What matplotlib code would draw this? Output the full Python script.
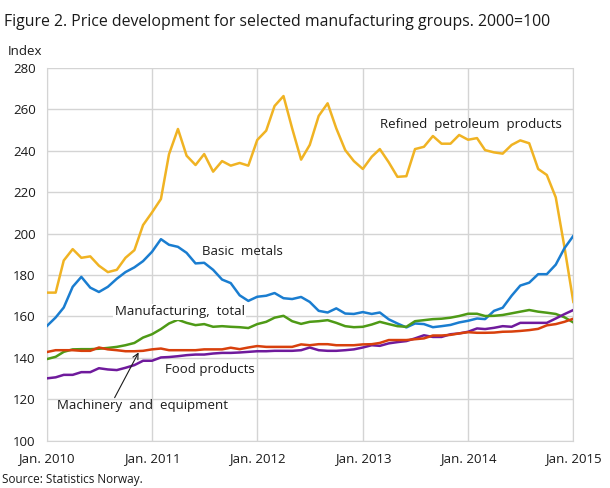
"""
Figure 2. Price development for selected manufacturing groups (2000=100)
Monthly index values Jan. 2010 - Jan. 2015, read off the published chart.
"""

import numpy as np
import pandas as pd
import matplotlib
matplotlib.use("Agg")
import matplotlib.pyplot as plt

plt.rcParams["font.family"] = ["Open Sans", "DejaVu Sans"]

# ─────────────────────────────────────────────────────────────────────────────
# Data (Jan. 2010 .. Jan. 2015, 61 months)
# ─────────────────────────────────────────────────────────────────────────────
months = pd.date_range("2010-01-01", "2015-01-01", freq="MS")

petroleum = [
    171.5, 171.5, 187.0, 192.5, 188.3, 189.0, 184.5, 181.4, 182.5, 188.3,
    192.0, 204.1, 210.2, 216.7, 238.3, 250.5, 237.6, 233.1, 238.4, 229.9,
    235.0, 232.8, 234.1, 232.8, 245.2, 249.7, 261.6, 266.4, 250.8, 235.7,
    242.8, 256.8, 262.9, 250.8, 240.3, 235.0, 231.2, 237.1, 240.8, 234.4,
    227.4, 227.7, 240.8, 241.9, 247.1, 243.4, 243.4, 247.6, 245.3, 246.1,
    240.3, 239.2, 238.6, 242.8, 245.0, 243.6, 231.2, 228.3, 217.5, 193.6,
    167.0,
]
basic_metals = [
    155.3, 159.5, 164.3, 174.3, 179.1, 173.9, 171.8, 174.3, 178.2, 181.4,
    183.7, 186.7, 191.2, 197.3, 194.6, 193.6, 190.7, 185.6, 185.9, 182.5,
    177.8, 176.1, 170.2, 167.5, 169.5, 170.0, 171.3, 168.8, 168.4, 169.4,
    167.0, 162.7, 161.9, 163.9, 161.4, 161.2, 162.1, 161.2, 161.9, 158.6,
    156.6, 154.7, 156.6, 156.3, 154.8, 155.3, 155.9, 157.1, 157.9, 159.0,
    158.7, 162.7, 164.2, 170.0, 174.9, 176.3, 180.4, 180.4, 185.0, 192.9,
    198.9,
]
manufacturing = [
    139.4, 140.5, 142.9, 144.1, 144.2, 144.2, 144.4, 144.8, 145.3, 146.1,
    147.2, 149.8, 151.4, 153.9, 156.6, 158.4, 156.9, 155.8, 156.3, 155.0,
    155.3, 155.0, 154.8, 154.4, 156.3, 157.4, 159.4, 160.3, 157.7, 156.4,
    157.4, 157.7, 158.2, 156.9, 155.3, 154.8, 155.0, 156.1, 157.4, 156.3,
    155.3, 155.0, 157.7, 158.2, 158.7, 158.9, 159.4, 160.2, 161.3, 161.3,
    160.2, 160.3, 160.7, 161.5, 162.3, 163.1, 162.3, 161.8, 161.2, 159.6,
    157.1,
]
food = [
    142.8, 143.7, 143.7, 143.7, 143.4, 143.4, 145.0, 144.1, 143.7, 143.2,
    143.2, 143.4, 144.1, 144.5, 143.7, 143.7, 143.7, 143.7, 144.1, 144.1,
    144.1, 144.9, 144.2, 145.0, 145.7, 145.3, 145.3, 145.3, 145.3, 146.5,
    146.1, 146.6, 146.6, 146.1, 146.1, 146.1, 146.5, 146.6, 147.2, 148.6,
    148.6, 148.6, 149.0, 149.4, 150.8, 150.8, 151.1, 151.8, 152.4, 152.1,
    152.1, 152.2, 152.6, 152.7, 153.0, 153.4, 154.0, 155.7, 156.3, 157.4,
    158.9,
]
machinery = [
    130.1, 130.6, 131.8, 131.8, 133.1, 133.1, 135.0, 134.4, 134.1, 135.2,
    136.5, 138.6, 138.6, 140.2, 140.4, 140.8, 141.3, 141.6, 141.6, 142.1,
    142.4, 142.4, 142.6, 142.9, 143.2, 143.2, 143.4, 143.4, 143.4, 143.7,
    145.0, 143.7, 143.4, 143.4, 143.7, 144.1, 145.0, 146.1, 145.8, 147.0,
    147.6, 148.1, 149.4, 150.9, 150.1, 150.1, 151.4, 151.8, 152.6, 154.2,
    153.9, 154.5, 155.3, 155.0, 156.9, 156.9, 156.9, 156.9, 159.0, 161.1,
    163.1,
]

year_ticks = pd.to_datetime(["2010-01-01", "2011-01-01", "2012-01-01",
                             "2013-01-01", "2014-01-01", "2015-01-01"])
year_labels = ["Jan. 2010", "Jan. 2011", "Jan. 2012",
               "Jan. 2013", "Jan. 2014", "Jan. 2015"]
y_ticks = [100, 120, 140, 160, 180, 200, 220, 240, 260, 280]

# ─────────────────────────────────────────────────────────────────────────────
# Plot
# ─────────────────────────────────────────────────────────────────────────────
fig = plt.figure(figsize=(6.1, 4.88), dpi=100)
ax = fig.add_axes([0.0766, 0.0969, 0.8633, 0.764])

GRID = "#d4d4d4"
TXT = "#1a1a1a"

ax.plot(months, petroleum, color="#F0B323", lw=1.8, zorder=3)
ax.plot(months, basic_metals, color="#1A7DD0", lw=1.8, zorder=3)
ax.plot(months, manufacturing, color="#4E9A16", lw=1.8, zorder=3)
ax.plot(months, machinery, color="#6F1A9C", lw=1.8, zorder=3)
ax.plot(months, food, color="#D8400C", lw=1.8, zorder=4)

ax.set_xlim(months[0], months[-1])
ax.set_ylim(100, 280)
ax.set_yticks(y_ticks)
ax.set_xticks(year_ticks)
ax.set_xticklabels(year_labels)
ax.grid(True, color=GRID, lw=1)
ax.set_axisbelow(True)
for side in ["left", "bottom", "right"]:
    ax.spines[side].set_color(GRID)
ax.spines["top"].set_visible(False)
ax.tick_params(length=0, labelsize=9.5, colors=TXT)
ax.tick_params(axis="x", pad=8)
ax.tick_params(axis="y", pad=8)

# series labels
lab = dict(fontsize=9.5, color=TXT, zorder=5)
ax.text(pd.Timestamp("2011-06-25"), 189.8, "Basic  metals", **lab)
ax.text(pd.Timestamp("2013-03-01"), 250.8, "Refined  petroleum  products", **lab)
ax.text(pd.Timestamp("2010-08-25"), 160.5, "Manufacturing,  total",
        bbox=dict(fc="white", ec="none", pad=1), **lab)
ax.text(pd.Timestamp("2011-02-15"), 132.8, "Food products", **lab)
ax.text(pd.Timestamp("2010-02-05"), 115.4, "Machinery  and  equipment", **lab)
ax.annotate("", xy=(pd.Timestamp("2010-11-20"), 143.8),
            xytext=(pd.Timestamp("2010-08-20"), 119.6),
            arrowprops=dict(arrowstyle="->", color=TXT, lw=0.8), zorder=6)

fig.text(0.006, 0.972, "Figure 2. Price development for selected manufacturing groups. 2000=100",
         fontsize=11.4, color=TXT, va="top")
fig.text(0.013, 0.895, "Index", fontsize=9.5, color=TXT, va="center")
fig.text(0.004, 0.004, "Source: Statistics Norway.", fontsize=8.5, color=TXT, va="bottom")

fig.savefig("out.png", dpi=100)
plt.close(fig)
